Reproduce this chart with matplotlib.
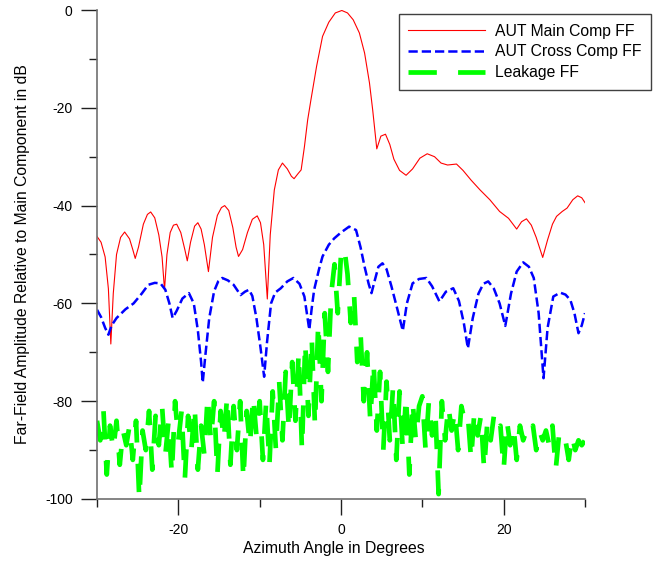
import matplotlib
matplotlib.use("Agg")
import matplotlib.pyplot as plt
import numpy as np

plt.rcParams['font.family'] = ['Liberation Sans', 'DejaVu Sans']
plt.rcParams['axes.unicode_minus'] = False

# AUT main component far-field (deg, dB)
main_x = [-30.0, -29.5, -29.0, -28.6, -28.3, -28.0, -27.6, -27.1, -26.6, -26.0,
          -25.6, -25.3, -24.9, -24.3, -23.8, -23.4, -22.9, -22.4, -22.0, -21.7,
          -21.4, -21.0, -20.6, -20.2, -19.7, -19.2, -18.9, -18.5, -18.0, -17.6,
          -17.2, -16.8, -16.3, -15.8, -15.2, -14.7, -14.3, -13.8, -13.3, -12.9,
          -12.6, -12.1, -11.5, -10.9, -10.3, -9.9, -9.5, -9.06, -8.7, -8.2,
          -7.7, -7.2, -6.6, -6.1, -5.77, -5.3, -4.9, -4.5, -4.1, -3.7,
          -3.0, -2.27, -1.5, -0.7, 0.1, 0.8, 1.5, 2.26, 2.9, 3.5,
          3.9, 4.4, 4.9, 5.47, 6.0, 6.5, 7.2, 8.0, 8.8, 9.7,
          10.6, 11.5, 12.3, 13.1, 14.2, 15.0, 16.0, 17.1, 18.3, 19.5,
          20.6, 21.6, 22.2, 22.8, 23.4, 24.0, 24.8, 25.4, 26.0, 26.5,
          27.2, 27.8, 28.5, 29.1, 29.6, 30.0]
main_db = [-46.3, -47.5, -50.5, -57.0, -68.3, -58.0, -50.0, -46.5, -45.4, -46.8,
           -49.0, -50.8, -48.5, -43.8, -41.8, -41.3, -42.5, -46.0, -50.5, -57.2,
           -50.0, -45.5, -44.0, -43.8, -45.5, -49.0, -51.3, -47.5, -44.2, -43.5,
           -44.8, -48.0, -53.5, -46.5, -42.0, -40.4, -40.0, -41.0, -44.5, -48.5,
           -50.4, -49.0, -45.5, -42.8, -42.1, -43.5, -48.0, -59.1, -46.0, -36.8,
           -32.7, -31.3, -32.5, -34.0, -34.5, -33.5, -32.7, -28.0, -22.5, -18.4,
           -11.5, -5.4, -2.5, -0.6, -0.1, -0.6, -2.0, -4.7, -8.8, -14.9,
           -20.5, -28.4, -25.8, -25.4, -27.5, -30.5, -32.8, -33.8, -32.5, -30.3,
           -29.4, -30.0, -31.3, -31.7, -31.5, -32.8, -34.8, -36.8, -38.8, -41.2,
           -42.6, -44.8, -43.3, -42.7, -44.0, -46.5, -50.6, -47.0, -43.8, -42.2,
           -41.2, -40.5, -38.8, -38.0, -38.4, -39.4]

# AUT cross component far-field
cross_x = [-30.0, -29.5, -29.0, -28.6, -28.2, -27.6, -26.5, -25.5, -24.5, -23.7,
           -22.9, -22.2, -21.6, -21.1, -20.7, -20.2, -19.5, -18.7, -18.1, -17.6,
           -17.2, -17.0, -16.7, -16.2, -15.6, -15.1, -14.6, -13.9, -13.2, -12.35,
           -11.8, -11.3, -10.9, -10.4, -9.9, -9.45, -9.1, -8.6, -8.1, -7.4,
           -6.6, -5.85, -5.1, -4.5, -3.9, -3.6, -3.3, -2.7, -2.27, -1.5,
           -0.83, 0.0, 1.0, 1.85, 2.4, 2.9, 3.4, 3.75, 4.2, 4.6,
           5.1, 5.6, 6.2, 6.9, 7.6, 8.1, 8.8, 9.6, 10.5, 11.2,
           12.1, 12.9, 13.8, 14.5, 15.1, 15.6, 16.2, 16.9, 17.5, 18.1,
           18.8, 19.5, 20.2, 20.9, 21.6, 22.4, 23.1, 23.7, 24.3, 24.9,
           25.4, 26.1, 26.95, 27.6, 28.2, 28.7, 29.2, 29.6, 30.0]
cross_db = [-61.3, -62.8, -65.0, -66.4, -64.5, -63.0, -61.2, -60.0, -58.0, -56.2,
            -55.8, -55.9, -57.2, -60.0, -63.0, -61.5, -59.0, -57.9, -60.0, -65.5,
            -72.0, -76.2, -71.0, -63.0, -57.5, -55.5, -54.8, -55.3, -56.2, -58.3,
            -57.6, -57.2, -58.5, -63.0, -69.0, -75.0, -68.0, -60.0, -57.8, -56.9,
            -55.5, -54.8, -56.0, -58.6, -65.4, -61.0, -57.2, -53.0, -50.4, -48.0,
            -46.7, -45.5, -44.3, -45.0, -48.5, -52.5, -56.0, -57.9, -55.0, -52.5,
            -51.8, -53.0, -56.5, -61.0, -65.6, -60.0, -55.9, -55.0, -54.8, -56.5,
            -59.6, -57.6, -56.9, -59.5, -64.0, -69.2, -63.0, -58.0, -56.0, -55.5,
            -57.0, -60.0, -64.6, -58.0, -53.5, -51.6, -52.5, -54.8, -62.0, -75.3,
            -65.0, -58.6, -57.8, -58.2, -59.3, -62.0, -66.1, -64.5, -62.0]

# leakage far-field, sampled every 0.4 deg from -30 to 30
leak_db = [-84, -88, -82, -95, -85, -90, -84, -93, -86, -89,
           -85, -92, -84, -100, -86, -90, -82, -94, -83, -89,
           -81, -91, -84, -95, -80, -88, -82, -96, -83, -90,
           -81, -94, -85, -91, -79, -88, -80, -95, -82, -88,
           -79, -93, -81, -90, -80, -96, -82, -89, -79, -87,
           -80, -92, -80, -93, -78, -90, -76, -88, -74, -86,
           -72, -84, -70, -90, -68, -83, -67, -85, -64, -80,
           -62, -74, -58, -52, -62, -50, -48.5, -54, -64, -58,
           -72, -66, -80, -70, -84, -72, -86, -74, -90, -76,
           -88, -77, -92, -78, -90, -79, -95, -80, -88, -81,
           -79, -90, -80, -87, -82, -99, -80, -88, -81, -86,
           -82, -90, -81, -84, -83, -92, -82, -87, -83, -94,
           -84, -88, -83, -86, -85, -94, -84, -89, -85, -92,
           -85, -88, -86, -87, -85, -90, -86, -88, -86, -89,
           -85, -94, -87, -89, -88, -92, -87, -90, -88, -89,
           -88]
leak_x = np.linspace(-30, 30, len(leak_db))

fig = plt.figure(figsize=(6.53, 5.61), dpi=100)
ax = fig.add_axes([97 / 653, 1 - 499 / 561, 488 / 653, 489 / 561])

ax.plot(main_x, main_db, color='#ff0000', lw=0.8, label='AUT Main Comp FF')
ax.plot(cross_x, cross_db, color='#0000ff', lw=1.8, ls='--', label='AUT Cross Comp FF')
ax.plot(leak_x, leak_db, color='#00ff00', lw=3.4, dashes=(6, 4.5), label='Leakage FF')

ax.set_xlim(-30, 30)
ax.set_ylim(-100, 0)
ax.set_xticks([-20, 0, 20])
ax.set_xticks([-30, -10, 10, 30], minor=True)
ax.set_yticks([0, -20, -40, -60, -80, -100])
ax.set_yticks([-10, -30, -50, -70, -90], minor=True)

for s in ['top', 'right']:
    ax.spines[s].set_visible(False)
for s in ['left', 'bottom']:
    ax.spines[s].set_color('#707070')
    ax.spines[s].set_linewidth(1.2)

ax.tick_params(which='major', length=11.5, width=1.0, color='#202020', labelsize=10, pad=6)
ax.tick_params(which='minor', length=5.8, width=1.0, color='#202020')

ax.set_xlabel('Azimuth Angle in Degrees', fontsize=11.3)
ax.set_ylabel('Far-Field Amplitude Relative to Main Component in dB', fontsize=11.3)
ax.xaxis.set_label_coords(0.486, -0.086)
ax.yaxis.set_label_coords(-0.137, 0.5)

leg = ax.legend(loc='upper right', bbox_to_anchor=(651 / 653, 1 - 14 / 561),
                bbox_transform=fig.transFigure, borderaxespad=0, fontsize=11.3,
                fancybox=False, framealpha=1, edgecolor='#404040',
                handlelength=4.9, handletextpad=0.6, labelspacing=0.36,
                borderpad=0.62)
leg.get_frame().set_linewidth(1.0)

fig.savefig('out.png', dpi=100)
